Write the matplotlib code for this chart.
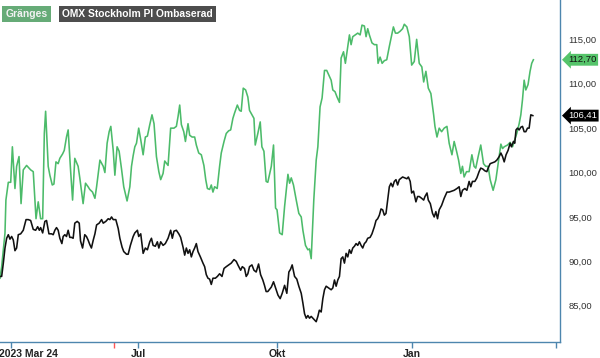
import matplotlib.pyplot as plt
from matplotlib.transforms import ScaledTranslation

plt.rcParams['font.family'] = ['Liberation Sans', 'DejaVu Sans']

# Handelsdagar (index) och indexerade värden
gr_t = [0.0, 0.9, 2.7, 3.2, 4.5, 5.8, 6.7, 7.6, 8.1, 9.0, 10.3, 11.4, 12.6, 14.4, 16.6, 18.0,
        19.5, 20.7, 22.0, 23.1, 24.0, 24.7, 26.1, 27.0, 28.3, 29.2, 30.3, 31.5, 32.4, 33.9,
        34.8, 36.0, 36.9, 38.2, 39.3, 40.5, 42.3, 43.2, 45.0, 46.3, 47.7, 48.6, 50.1, 51.4,
        52.3, 54.1, 55.9, 56.8, 58.0, 59.1, 60.0, 61.3, 62.2, 63.4, 64.5, 65.8, 67.0, 68.8,
        70.3, 71.2, 72.1,
        73.0, 73.9, 75.1, 76.2, 77.5, 78.7, 79.8, 81.1, 82.3, 83.4, 84.7, 86.0, 87.0, 88.3,
        89.2, 91.0, 92.4, 94.2, 95.5, 96.4, 97.3, 98.2, 99.5, 100.4, 101.8, 102.7, 104.0,
        105.4, 106.3, 107.6, 109.0, 110.4, 111.4, 112.3, 113.5, 114.4, 115.3, 116.2, 117.6,
        118.9, 119.8, 121.3, 122.5, 123.8, 124.9, 126.1, 127.0, 128.5, 129.7, 130.6, 131.7,
        133.0, 134.2, 135.1, 136.4, 137.5, 138.2, 139.6, 140.9, 141.8, 142.9, 144.1, 145.0,
        146.9, 148.1, 149.2, 150.0, 151.4, 152.8, 154.1, 155.9, 156.8, 157.7, 158.9, 160.4,
        161.8, 163.1, 164.0, 165.4, 166.7, 167.6, 168.5, 169.9, 171.2, 172.1, 173.3, 174.4,
        175.7, 176.9, 178.0, 179.3, 180.2, 181.4, 182.5, 183.8, 184.7, 186.0, 187.0, 188.3,
        189.2, 190.1, 191.0, 192.4, 193.7, 195.0, 196.0, 197.3, 198.2, 199.1, 200.0, 201.4,
        202.7, 204.0, 204.7, 205.8, 206.9, 208.1, 209.4, 210.8, 212.3, 213.0, 214.1, 215.3,
        216.6, 218.0,
        218.9, 220.3, 221.6, 222.9, 224.3, 225.6, 227.0, 228.4, 229.4, 230.6, 231.9, 233.3,
        234.8, 235.5, 236.6, 237.8, 239.1, 240.5, 242.0, 243.2, 244.7, 245.9, 247.2, 248.3,
        249.5, 250.4, 251.3, 252.6, 254.0, 255.5, 256.7, 257.6, 258.9, 260.3, 261.8, 263.0,
        264.3, 265.4, 267.0, 268.5, 269.7, 271.2, 272.1, 273.0, 274.8, 276.2, 277.5, 278.4,
        279.8, 281.1, 282.0, 282.9, 283.8, 284.7, 285.9, 287.0, 287.9, 288.8]
gr_v = [88.1, 89.4, 93.2, 96.9, 98.9, 98.9, 102.9, 99.9, 98.2, 100.7, 101.8, 96.5, 100.3, 100.8,
        100.3, 100.1, 94.8, 96.7, 94.8, 94.8, 104.4, 106.9, 100.7, 99.7, 98.6, 98.7, 101.2,
        101.0, 101.6, 102.1, 102.5, 104.0, 104.8, 100.3, 96.9, 101.6, 100.7, 99.4, 96.5, 98.8,
        98.4, 98.1, 97.8, 97.1, 98.4, 101.4, 100.7, 100.0, 103.3, 104.6, 105.2, 102.5, 99.7,
        102.9, 102.4, 100.4, 98.4, 96.8, 98.4, 100.7, 101.9,
        102.9, 103.3, 105.0, 103.7, 102.0, 104.0, 104.1, 105.4, 106.5, 105.5, 101.8, 100.1,
        99.2, 99.9, 101.3, 100.8, 105.0, 105.0, 105.2, 106.3, 107.6, 105.4, 104.6, 103.5,
        105.5, 104.2, 104.0, 104.0, 103.1, 102.2, 102.0, 100.8, 99.2, 98.2, 98.1, 98.6, 97.8,
        98.4, 98.2, 100.7, 102.2, 103.5, 104.4, 104.7, 104.8, 106.1, 106.7, 107.6, 107.0,
        106.9, 109.5, 109.3, 108.5, 107.0, 106.5, 106.1, 103.1, 104.4, 105.7, 102.9, 102.4,
        99.0, 98.9,
        100.7, 103.1, 96.0, 95.8, 93.2, 93.0, 96.2, 99.8, 98.8, 99.4, 98.6, 96.9, 95.4, 95.0,
        93.5, 91.8, 91.3, 91.4, 90.3, 96.9, 101.4, 102.9, 107.4, 108.4, 111.5, 111.5, 111.0,
        110.4, 109.3, 109.1, 108.5, 107.9, 112.9, 113.6, 112.3, 114.2, 115.5, 114.4, 115.3,
        115.5, 115.7, 115.5, 116.6, 116.5, 115.3, 116.2, 115.5, 114.6, 114.4, 114.4, 112.3,
        113.0, 112.3, 112.6, 112.7, 114.2, 115.7, 116.4, 115.7, 115.7, 115.9, 116.2,
        116.7, 116.4, 115.3, 112.1, 112.5, 115.0, 112.3, 111.9, 110.2, 111.4, 109.5, 108.9,
        106.5, 105.2, 104.0, 105.0, 104.6, 105.0, 105.2, 103.3, 102.0, 103.5, 102.4, 101.4,
        99.9, 100.7, 99.5, 100.1, 100.1, 102.0, 100.7, 100.5, 101.8, 103.1, 101.0, 100.7,
        100.7, 99.2, 98.0, 99.2, 101.0, 103.2, 102.7, 102.9, 103.1, 103.4, 102.9, 103.5,
        104.4, 105.5, 106.5, 108.2, 110.4, 109.3, 109.9, 111.4, 112.3, 112.7]

omx_t = [0.0, 0.9, 1.8, 2.7, 3.6, 4.5, 5.4, 6.3, 7.2, 8.1, 9.0, 9.9, 11.2, 12.6, 14.1, 15.3,
         16.6, 18.0, 19.3, 20.4, 21.3, 22.0, 23.1, 24.3, 25.2, 26.5, 27.9, 28.8, 29.7, 30.6,
         31.5, 32.4, 33.5, 34.2, 35.1, 36.0, 36.9, 37.8, 38.7, 39.6, 40.5, 41.8, 42.9, 43.6,
         44.7, 45.9, 46.8, 47.7, 48.6, 49.5, 50.5, 51.4, 52.3, 53.7, 55.0, 55.9, 57.3, 58.6,
         59.5, 60.4, 61.3, 62.7, 64.0, 64.9, 66.1, 67.0, 68.5, 69.4, 70.6, 72.1,
         73.0, 74.4, 75.1, 76.2, 77.5, 78.7, 79.8, 81.1, 82.0, 82.9, 84.1, 85.2, 86.0, 87.0,
         88.3, 89.5, 91.0, 92.4, 93.3, 94.2, 95.5, 96.8, 97.8, 99.1, 100.0, 100.9, 101.8,
         102.7, 103.6, 104.5, 105.4, 106.3, 107.2, 108.5, 109.9, 110.8, 111.7, 112.6, 113.5,
         114.4, 115.3, 116.6, 117.7, 118.9, 120.2, 121.3, 122.5, 123.8, 125.2, 126.7, 127.9,
         128.8, 130.3, 131.2, 132.4, 133.3, 134.2, 135.1, 136.4, 137.5, 138.7, 140.0, 141.1,
         142.3, 143.2, 144.1, 145.0,
         146.9, 148.1, 149.2, 150.5, 151.7, 152.8, 154.1, 155.3, 156.4, 157.3, 158.2, 159.5,
         160.7, 161.8, 163.1, 164.0, 164.9, 165.8, 166.7, 167.6, 168.5, 169.4, 170.3, 171.2,
         172.1, 172.9, 173.9, 174.8, 175.7, 176.6, 178.0, 179.3, 180.2, 181.1, 182.0, 182.9,
         183.8, 184.7, 185.6, 186.5, 187.4, 188.3, 189.2, 190.1, 191.0, 191.9, 192.8, 193.7,
         194.6, 195.5, 196.4, 197.3, 198.2, 199.1, 200.4, 201.4, 202.7, 203.6, 204.5, 205.4,
         206.3, 207.2, 208.1, 209.0, 209.9, 210.8, 211.7, 212.6, 213.5, 214.4, 215.3, 216.2,
         218.0,
         220.3, 221.1, 222.1, 222.9, 223.9, 225.2, 226.1, 227.0, 228.3, 229.4, 230.1, 231.2,
         231.9, 233.0, 234.2, 235.1, 236.0, 236.9, 237.8, 239.1, 240.5, 242.0, 243.2, 244.5,
         245.9, 247.4, 248.6, 249.5, 250.4, 251.7, 252.8, 254.0, 254.9, 255.8, 257.1, 258.2,
         259.4, 260.3, 261.4, 262.5, 263.6, 264.3, 265.4, 266.6, 267.9, 269.0, 270.3, 271.2,
         272.1, 273.0, 274.0, 275.1, 276.2, 276.9, 278.0, 278.7, 279.4, 280.2, 281.1, 282.0,
         282.9, 283.8, 284.7, 285.6, 286.5, 287.4, 288.5]
omx_v = [88.3, 88.3, 89.8, 91.5, 92.6, 93.0, 92.5, 92.8, 92.4, 91.2, 91.5, 93.0, 93.1, 93.5,
         94.7, 94.7, 94.6, 93.6, 93.5, 93.9, 93.5, 93.8, 93.2, 94.5, 94.6, 93.1, 93.1, 93.0,
         93.5, 93.8, 93.5, 92.6, 92.0, 92.8, 93.0, 92.8, 93.5, 92.7, 92.7, 92.6, 94.3, 94.5,
         94.3, 92.3, 91.5, 93.0, 92.8, 92.4, 91.9, 91.5, 92.4, 93.1, 94.1, 94.3, 94.7, 94.3,
         94.5, 94.8, 94.7, 95.0, 94.7, 94.7, 93.7, 92.6, 91.6, 91.1, 90.8, 90.8, 91.8, 92.8,
         93.2, 93.5, 92.8, 93.1, 90.9, 91.5, 91.3, 92.2, 92.6, 91.8, 91.7, 92.2, 91.5, 92.2,
         91.8, 92.0, 92.6, 93.5, 92.6, 93.4, 93.5, 93.1, 92.7, 91.6, 90.7, 91.5, 90.9, 91.3,
         90.5, 91.1, 91.5, 92.0, 91.1, 90.5, 89.8, 89.4, 88.5, 88.1, 88.0, 87.4, 88.1, 88.1,
         88.3, 88.6, 88.3, 89.2, 89.4, 89.6, 89.8, 90.2, 90.0, 89.6, 89.0, 89.4, 89.2, 88.3,
         88.6, 89.4, 89.6, 89.0, 88.8, 89.7, 88.5, 87.9, 87.3, 86.6, 86.6,
         87.1, 87.7, 87.0, 86.2, 85.8, 86.4, 87.3, 86.4, 88.8, 89.1, 89.6, 88.3, 88.0, 87.2,
         86.4, 85.3, 84.1, 83.6, 83.9, 83.6, 83.8, 83.6, 83.4, 83.2, 83.8, 84.5, 84.3, 85.8,
         86.8, 87.2, 87.0, 86.8, 87.0, 87.9, 87.2, 87.9, 88.3, 90.3, 90.5, 89.8, 90.9, 90.5,
         91.3, 90.9, 91.5, 91.7, 92.0, 91.8, 92.2, 91.8, 91.5, 92.0, 92.2, 92.6, 92.7, 93.1,
         93.9, 94.6, 94.8, 95.2, 95.9, 95.8, 95.2, 95.4, 96.9, 98.4, 98.8, 98.4, 99.0, 99.2,
         98.6, 99.2, 99.5,
         99.3, 99.5, 99.0, 97.7, 97.9, 96.7, 97.3, 97.3, 97.1, 96.9, 97.3, 97.7, 96.9, 96.5,
         95.4, 95.0, 95.6, 94.8, 95.8, 96.3, 97.1, 97.8, 97.8, 97.9, 98.0, 98.2, 98.4, 97.3,
         98.0, 98.2, 98.0, 99.0, 98.4, 99.0, 99.0, 99.4, 100.1, 100.5, 100.4, 100.2, 100.1,
         100.5, 101.0, 101.1, 101.2, 101.4, 101.8, 102.2, 101.8, 101.2, 102.0, 102.5, 103.3,
         102.9, 103.5, 103.3, 104.8, 105.0, 104.8, 105.1, 105.2, 104.6, 104.6, 105.0, 105.0,
         106.5, 106.41]

tick_pos = [6.2, 74.9, 150.1, 223.1, 301.1]
tick_labels = ['2023 Mar 24', 'Jul', 'Okt', 'Jan', '']
marker_pos = [61.9]          # röd markering på tidsaxeln
y_ticks = [85, 90, 95, 100, 105, 110, 115]

GREEN = '#4cbb6a'
AXIS = '#4d86ae'

fig = plt.figure(figsize=(6, 3.58), dpi=100)
ax = fig.add_axes([0, 0.0455, 0.9333, 0.9545])

ax.plot(gr_t, gr_v, color=GREEN, lw=1.15, solid_joinstyle='round')
ax.plot(omx_t, omx_v, color='#111111', lw=1.15, solid_joinstyle='round')

ax.set_xlim(0, 303.2)
ax.set_ylim(80.95, 119.43)

for s in ['left', 'top']:
    ax.spines[s].set_visible(False)
for s in ['right', 'bottom']:
    ax.spines[s].set_color(AXIS)
    ax.spines[s].set_linewidth(1.0)

# y-axel till höger med decimalkomma
ax.yaxis.tick_right()
ax.set_yticks(y_ticks)
ax.set_yticklabels([f'{v:.2f}'.replace('.', ',') for v in y_ticks])
ax.tick_params(axis='y', length=0, pad=6, labelsize=6.8, labelcolor='#333333')

ax.set_xticks(tick_pos)
ax.set_xticklabels(tick_labels, fontweight='bold', fontsize=7.5, color='#222222')
ax.tick_params(axis='x', length=4, width=1, color=AXIS, pad=1.5)
ax.set_xticks(marker_pos, minor=True)
ax.tick_params(axis='x', which='minor', length=4, width=1, color='#ff5555')

first = ax.get_xticklabels()[0]
first.set_ha('left')
first.set_transform(first.get_transform() + ScaledTranslation(-9 / 72, 0, fig.dpi_scale_trans))

# värdeetiketter vid senaste kurs
for val, bg, fg in [(gr_v[-1], '#55c46a', '#111111'), (omx_v[-1], '#000000', '#ffffff')]:
    ax.annotate(f'{val:.2f}'.replace('.', ','), xy=(1.0, val),
                xycoords=('axes fraction', 'data'), xytext=(6, 0),
                textcoords='offset points', va='center', ha='left',
                fontsize=6.8, color=fg,
                bbox=dict(boxstyle='larrow,pad=0.15', fc=bg, ec='none'))

# legendrutor uppe till vänster
fig.text(0.009, 0.975, 'Gränges', fontsize=7.5, fontweight='bold', color='#f2f2f2',
         va='top', ha='left',
         bbox=dict(boxstyle='square,pad=0.3', fc='#66ab77', ec='none'))
fig.text(0.103, 0.975, 'OMX Stockholm PI Ombaserad', fontsize=7.4, fontweight='bold',
         color='white', va='top', ha='left',
         bbox=dict(boxstyle='square,pad=0.3', fc='#4d4d4d', ec='none'))

fig.savefig('out.png', dpi=100)
